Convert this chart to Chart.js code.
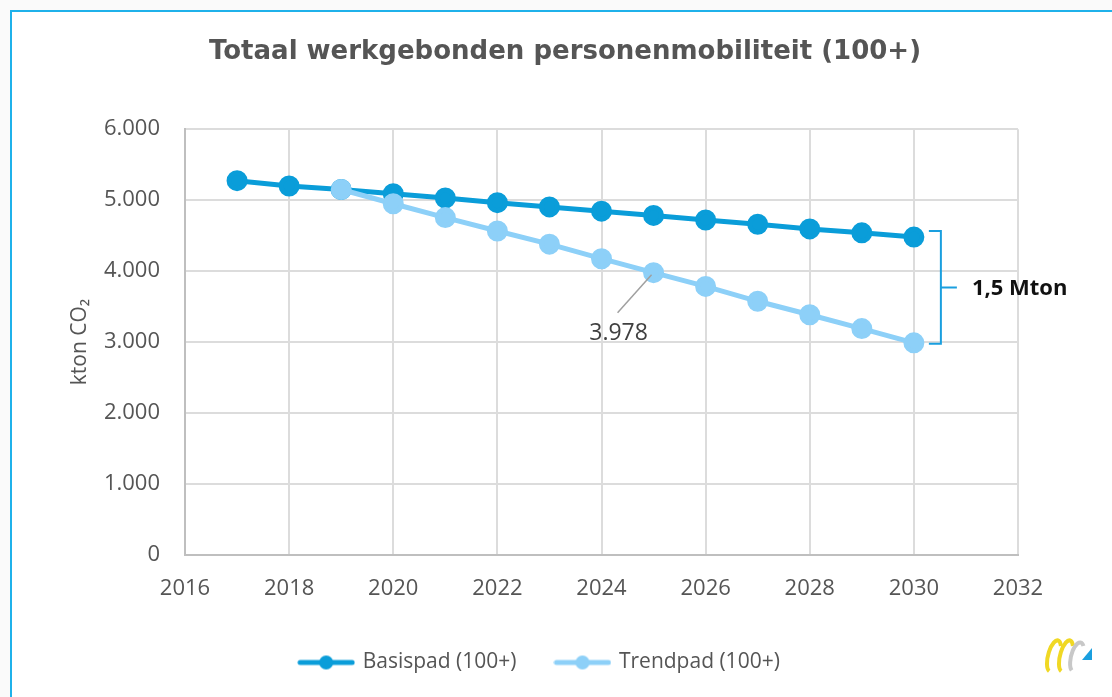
<!DOCTYPE html>
<html>
<head>
<meta charset="utf-8">
<script src="https://cdn.jsdelivr.net/npm/chart.js@4.4.1/dist/chart.umd.min.js"></script>
<style>
html, body { margin: 0; padding: 0; background: #fafafa; }
#frame { position: absolute; left: 10px; top: 10px; width: 1110px; height: 700px; border-top: 2px solid #1fb1ea; border-left: 2px solid #1fb1ea; background: #fff; }
#wrap { position: absolute; left: 0; top: 0; width: 1112px; height: 697px; }
</style>
</head>
<body>
<div id="frame"></div>
<div id="wrap"><canvas id="grafiek" width="1112" height="697"></canvas></div>
<script>
// waarden (kton CO2)
const jaren = [2017, 2018, 2019, 2020, 2021, 2022, 2023, 2024, 2025, 2026, 2027, 2028, 2029, 2030];
const basispad = [5275, 5200, 5150, 5090, 5030, 4965, 4905, 4845, 4785, 4720, 4660, 4595, 4540, 4480];
const trendpad = [null, null, 5150, 4950, 4755, 4565, 4380, 4175, 3978, 3785, 3575, 3385, 3190, 2990];
const reeksNamen = ['Basispad (100+)', 'Trendpad (100+)'];
const kleuren = ['#0a9dd9', '#8dd0f8'];
const labelJaar = 2025;

const grijs = '#555555';
const fontFam = '"Open Sans", "DejaVu Sans", sans-serif';

const punten = arr => jaren.map((j, i) => ({x: j, y: arr[i]})).filter(p => p.y !== null);

// legend icoon: lijn met bolletje
const legendIcoon = kleur => {
    const c = document.createElement('canvas');
    c.width = 58; c.height = 16;
    const g = c.getContext('2d');
    g.strokeStyle = kleur; g.lineWidth = 5; g.lineCap = 'round';
    g.beginPath(); g.moveTo(3, 8); g.lineTo(55, 8); g.stroke();
    g.fillStyle = kleur;
    g.beginPath(); g.arc(29, 8, 7, 0, Math.PI * 2); g.fill();
    return c;
};

const annotaties = {
    id: 'annotaties',
    afterLayout(chart) {
        // titel staat in het origineel iets rechts van het midden
        chart.titleBlock.left += 25;
        chart.titleBlock.right += 25;
    },
    afterDatasetsDraw(chart) {
        const {ctx, scales: {x, y}} = chart;
        ctx.save();
        // label 3.978
        const i = jaren.indexOf(labelJaar);
        const px = x.getPixelForValue(labelJaar), py = y.getPixelForValue(trendpad[i]);
        ctx.strokeStyle = '#a0a0a0'; ctx.lineWidth = 1.5;
        ctx.beginPath(); ctx.moveTo(px - 2, py + 2); ctx.lineTo(px - 36, py + 40); ctx.stroke();
        ctx.fillStyle = '#404040';
        ctx.font = '23px ' + fontFam;
        ctx.textAlign = 'center'; ctx.textBaseline = 'middle';
        ctx.fillText(trendpad[i].toLocaleString('nl-NL'), px - 35, py + 61);

        // accolade tussen de twee paden in 2030
        const n = jaren.length - 1;
        const bx = x.getPixelForValue(jaren[n]);
        const yTop = y.getPixelForValue(basispad[n]) - 6;
        const yBot = y.getPixelForValue(trendpad[n]) + 1;
        const x0 = bx + 15, x1 = bx + 27, ym = (yTop + yBot) / 2;
        ctx.strokeStyle = '#1a9fdf'; ctx.lineWidth = 2;
        ctx.beginPath();
        ctx.moveTo(x0, yTop); ctx.lineTo(x1, yTop); ctx.lineTo(x1, yBot); ctx.lineTo(x0, yBot);
        ctx.moveTo(x1, ym); ctx.lineTo(x1 + 16, ym);
        ctx.stroke();
        const verschil = (basispad[n] - trendpad[n]) / 1000;
        ctx.fillStyle = '#111';
        ctx.font = 'bold 22px ' + fontFam;
        ctx.textAlign = 'left';
        ctx.fillText(verschil.toLocaleString('nl-NL', {maximumFractionDigits: 1}) + ' Mton', x1 + 31, ym + 1);
        ctx.restore();
    },
    afterDraw(chart) {
        // klein logo rechtsonder
        const ctx = chart.ctx;
        ctx.save();
        ctx.lineWidth = 4;
        ctx.strokeStyle = '#f0d824';
        ctx.beginPath(); ctx.ellipse(1054, 656, 6, 16, 0.25, Math.PI * 0.55, Math.PI * 1.75); ctx.stroke();
        ctx.beginPath(); ctx.ellipse(1066, 656, 6, 16, 0.25, Math.PI * 0.55, Math.PI * 1.75); ctx.stroke();
        ctx.strokeStyle = '#c8c8c8';
        ctx.beginPath(); ctx.ellipse(1077, 657, 6, 15, 0.25, Math.PI * 0.6, Math.PI * 1.7); ctx.stroke();
        ctx.fillStyle = '#1a9fdf';
        ctx.beginPath(); ctx.moveTo(1092, 648); ctx.lineTo(1092, 660); ctx.lineTo(1082, 660); ctx.closePath(); ctx.fill();
        ctx.restore();
    }
};

const grafiek = new Chart('grafiek', {
    type: 'line',
    data: {
        datasets: [{
            label: reeksNamen[0],
            data: punten(basispad),
            borderColor: kleuren[0],
            backgroundColor: kleuren[0],
            borderWidth: 5,
            pointRadius: 8,
            pointHoverRadius: 8,
            order: 1
        }, {
            label: reeksNamen[1],
            data: punten(trendpad),
            borderColor: kleuren[1],
            backgroundColor: kleuren[1],
            borderWidth: 5,
            pointRadius: 8,
            pointHoverRadius: 8,
            order: 0
        }]
    },
    options: {
        responsive: false,
        animation: false,
        locale: 'nl-NL',
        layout: {padding: {left: 20, right: 52, top: 0, bottom: 14}},
        scales: {
            x: {
                type: 'linear',
                min: 2016, max: 2032,
                ticks: {stepSize: 2, color: grijs, font: {size: 22, family: fontFam}, padding: 21, callback: v => String(v)},
                grid: {color: '#dcdcdc', lineWidth: 2, drawTicks: false},
                border: {color: '#bfbfbf', width: 2},
                afterFit: s => { s.height = 57; }
            },
            y: {
                min: 0, max: 6000,
                ticks: {stepSize: 1000, color: grijs, font: {size: 22, family: fontFam}, padding: 25},
                grid: {color: '#dcdcdc', lineWidth: 2, drawTicks: false},
                border: {color: '#bfbfbf', width: 2},
                title: {display: true, text: 'kton CO\u2082', color: grijs, font: {size: 21, family: fontFam}, padding: {top: 47, bottom: 0}},
                afterFit: s => { s.width = 165; }
            },
            // lege as rechts voor de ruimte naast het plotvlak
            ruimte: {
                position: 'right',
                display: true,
                grid: {display: false},
                ticks: {display: false},
                border: {display: false},
                afterFit: s => { s.width = 42; }
            }
        },
        plugins: {
            title: {
                display: true,
                text: 'Totaal werkgebonden personenmobiliteit (100+)',
                color: grijs,
                font: {size: 26, weight: 'bold', family: '"DejaVu Sans", sans-serif'},
                padding: {top: 37, bottom: 61}
            },
            legend: {
                position: 'bottom',
                labels: {
                    usePointStyle: true,
                    pointStyleWidth: 52,
                    padding: 40,
                    color: grijs,
                    font: {size: 21, family: fontFam},
                    generateLabels: chart => {
                        const items = Chart.defaults.plugins.legend.labels.generateLabels(chart);
                        items.sort((a, b) => a.datasetIndex - b.datasetIndex);
                        items.forEach(it => { it.pointStyle = legendIcoon(kleuren[it.datasetIndex]); });
                        return items;
                    }
                }
            },
            tooltip: {enabled: false}
        }
    },
    plugins: [annotaties]
});
</script>
</body>
</html>
